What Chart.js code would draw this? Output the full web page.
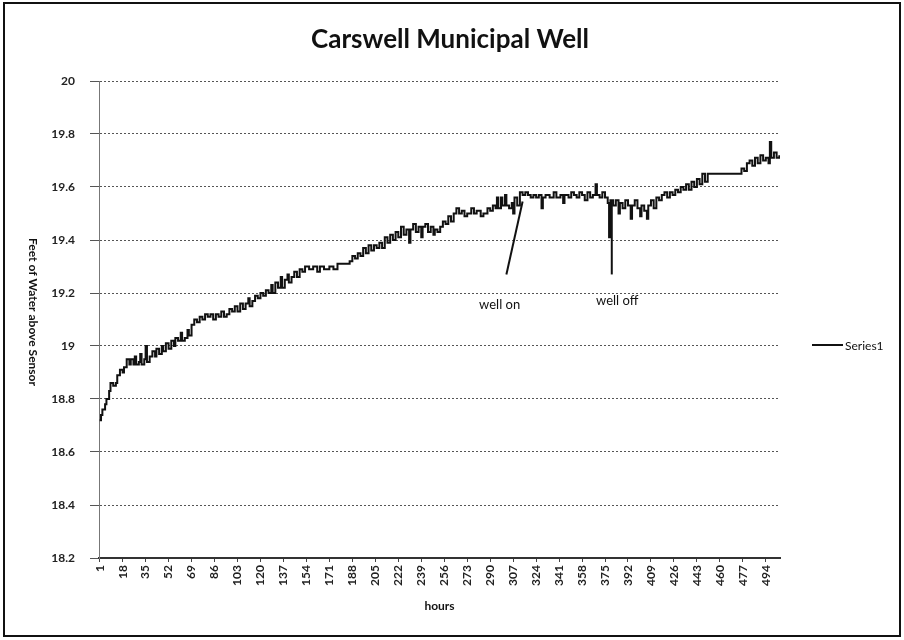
<!DOCTYPE html>
<html>
<head>
<meta charset="utf-8">
<script src="https://cdn.jsdelivr.net/npm/chart.js@4/dist/chart.umd.min.js"></script>
<style>
  html, body { margin: 0; padding: 0; background: #fff; }
  canvas { display: block; }
</style>
</head>
<body>
<canvas id="well-chart" width="904" height="640"></canvas>
<script>
// hourly readings, only the hours where the level changes
var hours = [
    1, 2, 3, 5, 6, 8, 9, 11, 13, 14, 16, 18, 19, 21, 23, 24, 26, 27, 28, 30,
    31, 32, 34, 35, 36, 38, 40, 42, 43, 45, 47, 48, 50, 52, 54, 56, 57, 59, 61, 62,
    64, 66, 67, 69, 71, 73, 75, 77, 79, 81, 83, 85, 87, 89, 91, 93, 95, 97, 99, 101,
    103, 105, 107, 109, 111, 112, 114, 116, 118, 120, 122, 124, 126, 128, 129, 131, 133, 135, 136, 138,
    140, 141, 143, 145, 147, 149, 151, 153, 156, 159, 162, 164, 167, 171, 174, 177, 186, 188, 190, 192,
    194, 196, 198, 200, 202, 204, 206, 208, 210, 212, 214, 216, 218, 220, 222, 224, 226, 228, 230, 231,
    233, 235, 237, 239, 240, 242, 244, 246, 248, 249, 251, 253, 255, 257, 259, 261, 263, 265, 267, 269,
    271, 273, 276, 278, 280, 283, 285, 288, 290, 292, 294, 295, 296, 298, 299, 301, 302, 304, 306, 307,
    308, 310, 312, 314, 316, 318, 320, 322, 324, 326, 328, 329, 331, 334, 337, 339, 342, 344, 345, 348,
    350, 352, 354, 356, 358, 360, 362, 364, 366, 368, 369, 371, 373, 375, 377, 378, 379, 381, 383, 385,
    386, 388, 390, 392, 394, 395, 397, 399, 401, 402, 404, 406, 407, 409, 411, 413, 415, 417, 419, 421,
    423, 425, 427, 429, 431, 433, 435, 437, 439, 441, 443, 445, 447, 449, 451, 474, 476, 478, 480, 482,
    484, 486, 488, 490, 492, 494, 496, 497, 498, 500, 502, 504
];
var levels = [
    18.72, 18.74, 18.76, 18.78, 18.80, 18.83, 18.86, 18.85, 18.86, 18.89, 18.91, 18.90, 18.92, 18.95, 18.93, 18.95, 18.93, 18.96, 18.93, 18.94,
    18.97, 18.93, 18.95, 19.00, 18.94, 18.96, 18.98, 18.96, 18.99, 18.97, 19.00, 18.98, 19.01, 18.99, 19.02, 19.00, 19.03, 19.02, 19.05, 19.02,
    19.03, 19.06, 19.04, 19.08, 19.10, 19.09, 19.11, 19.10, 19.12, 19.11, 19.12, 19.10, 19.12, 19.11, 19.13, 19.11, 19.12, 19.14, 19.13, 19.15,
    19.13, 19.16, 19.14, 19.16, 19.18, 19.15, 19.17, 19.19, 19.18, 19.20, 19.19, 19.21, 19.20, 19.23, 19.20, 19.24, 19.22, 19.26, 19.22, 19.25,
    19.27, 19.24, 19.26, 19.28, 19.26, 19.29, 19.28, 19.30, 19.29, 19.30, 19.28, 19.30, 19.29, 19.30, 19.29, 19.31, 19.32, 19.34, 19.33, 19.35,
    19.34, 19.37, 19.35, 19.38, 19.36, 19.38, 19.37, 19.39, 19.37, 19.41, 19.39, 19.42, 19.40, 19.43, 19.41, 19.45, 19.42, 19.44, 19.39, 19.44,
    19.46, 19.43, 19.45, 19.41, 19.45, 19.46, 19.43, 19.45, 19.42, 19.44, 19.43, 19.45, 19.47, 19.46, 19.49, 19.47, 19.50, 19.52, 19.50, 19.51,
    19.49, 19.50, 19.52, 19.50, 19.51, 19.49, 19.50, 19.52, 19.51, 19.53, 19.52, 19.56, 19.52, 19.56, 19.53, 19.57, 19.53, 19.52, 19.54, 19.50,
    19.56, 19.53, 19.58, 19.57, 19.58, 19.57, 19.56, 19.57, 19.56, 19.57, 19.52, 19.56, 19.57, 19.56, 19.58, 19.56, 19.57, 19.54, 19.57, 19.56,
    19.58, 19.57, 19.56, 19.58, 19.57, 19.55, 19.58, 19.56, 19.57, 19.61, 19.57, 19.56, 19.58, 19.56, 19.54, 19.41, 19.55, 19.53, 19.55, 19.50,
    19.54, 19.52, 19.55, 19.53, 19.48, 19.53, 19.55, 19.52, 19.49, 19.53, 19.51, 19.48, 19.53, 19.55, 19.52, 19.56, 19.55, 19.57, 19.58, 19.56,
    19.58, 19.57, 19.59, 19.58, 19.60, 19.59, 19.61, 19.59, 19.62, 19.60, 19.63, 19.61, 19.65, 19.62, 19.65, 19.65, 19.67, 19.66, 19.69, 19.70,
    19.68, 19.71, 19.69, 19.72, 19.70, 19.71, 19.69, 19.77, 19.71, 19.73, 19.71, 19.72
];

var hourTicks = [1, 18, 35, 52, 69, 86, 103, 120, 137, 154, 171, 188, 205, 222, 239, 256,
    273, 290, 307, 324, 341, 358, 375, 392, 409, 426, 443, 460, 477, 494];
var levelTicks = [18.2, 18.4, 18.6, 18.8, 19, 19.2, 19.4, 19.6, 19.8, 20];

var chartTitle = 'Carswell Municipal Well';
var xTitle = 'hours';
var yTitle = 'Feet of Water above Sensor';
var seriesName = 'Series1';

// notes written on the chart: label spot and arrow, in hours / feet
var notes = [
    { text: 'well on', hour: 297, level: 19.155, fromHour: 302, fromLevel: 19.27, toHour: 314, toLevel: 19.545 },
    { text: 'well off', hour: 384, level: 19.17, fromHour: 380, fromLevel: 19.27, toHour: 380, toLevel: 19.55 }
];

var points = hours.map(function(h, i) { return { x: h, y: levels[i] }; });

var fontFace = 'Lato, "Open Sans", sans-serif';

var decorations = {
    id: 'decorations',
    beforeDraw: function(chart) {
        var ctx = chart.ctx;
        ctx.save();
        ctx.fillStyle = '#fff';
        ctx.fillRect(0, 0, chart.width, chart.height);
        ctx.restore();
    },
    afterDraw: function(chart) {
        var ctx = chart.ctx;
        var xs = chart.scales.x;
        var ys = chart.scales.y;
        ctx.save();

        // outer frame
        ctx.strokeStyle = '#111';
        ctx.lineWidth = 2;
        ctx.strokeRect(4, 3, 896, 633);

        // title
        ctx.fillStyle = '#111';
        ctx.font = 'bold 26px ' + fontFace;
        ctx.textAlign = 'center';
        ctx.textBaseline = 'middle';
        ctx.fillText(chartTitle, 450, 40);

        // y title, reads top to bottom
        ctx.save();
        ctx.translate(33, 312);
        ctx.rotate(Math.PI / 2);
        ctx.font = 'bold 12px ' + fontFace;
        ctx.fillText(yTitle, 0, 0);
        ctx.restore();

        // legend
        ctx.strokeStyle = '#111';
        ctx.lineWidth = 2;
        ctx.beginPath();
        ctx.moveTo(812, 345);
        ctx.lineTo(843, 345);
        ctx.stroke();
        ctx.font = '12px ' + fontFace;
        ctx.textAlign = 'left';
        ctx.fillText(seriesName, 845, 346);

        // notes
        notes.forEach(function(n) {
            ctx.strokeStyle = '#111';
            ctx.lineWidth = 2;
            ctx.beginPath();
            ctx.moveTo(xs.getPixelForValue(n.fromHour), ys.getPixelForValue(n.fromLevel));
            ctx.lineTo(xs.getPixelForValue(n.toHour), ys.getPixelForValue(n.toLevel));
            ctx.stroke();
            ctx.font = '13px ' + fontFace;
            ctx.textAlign = 'center';
            ctx.fillText(n.text, xs.getPixelForValue(n.hour), ys.getPixelForValue(n.level));
        });

        ctx.restore();
    }
};

new Chart(document.getElementById('well-chart').getContext('2d'), {
    type: 'line',
    data: {
        datasets: [{
            label: seriesName,
            data: points,
            borderColor: '#111',
            borderWidth: 2,
            pointRadius: 0,
            stepped: true,
            fill: false
        }]
    },
    options: {
        responsive: false,
        animation: false,
        devicePixelRatio: 1,
        layout: { padding: { left: 0, top: 81, right: 124, bottom: 16 } },
        plugins: {
            legend: { display: false },
            title: { display: false },
            tooltip: { enabled: false }
        },
        scales: {
            x: {
                type: 'linear',
                min: 0.5,
                max: 504.5,
                afterBuildTicks: function(scale) {
                    scale.ticks = hourTicks.map(function(v) { return { value: v }; });
                },
                afterFit: function(scale) { scale.height = 66; },
                ticks: {
                    autoSkip: false,
                    maxRotation: 90,
                    minRotation: 90,
                    padding: 3,
                    color: '#222',
                    font: { family: fontFace, size: 12, weight: 'bold' }
                },
                grid: { drawOnChartArea: false, tickLength: 4, color: '#444' },
                border: { display: true, color: '#333', width: 2 },
                title: {
                    display: true,
                    text: xTitle,
                    color: '#111',
                    font: { family: fontFace, size: 12, weight: 'bold' },
                    padding: { top: 2, bottom: 11 }
                }
            },
            y: {
                min: 18.2,
                max: 20,
                afterBuildTicks: function(scale) {
                    scale.ticks = levelTicks.map(function(v) { return { value: v }; });
                },
                afterFit: function(scale) { scale.width = 99; },
                ticks: {
                    padding: 15,
                    color: '#222',
                    font: { family: fontFace, size: 12, weight: 'bold' },
                    callback: function(v) { return String(Math.round(v * 10) / 10); }
                },
                grid: { color: '#555', lineWidth: 1, tickLength: 9 },
                border: { display: true, color: '#777', width: 1, dash: [2, 2] }
            }
        }
    },
    plugins: [decorations]
});
</script>
</body>
</html>
